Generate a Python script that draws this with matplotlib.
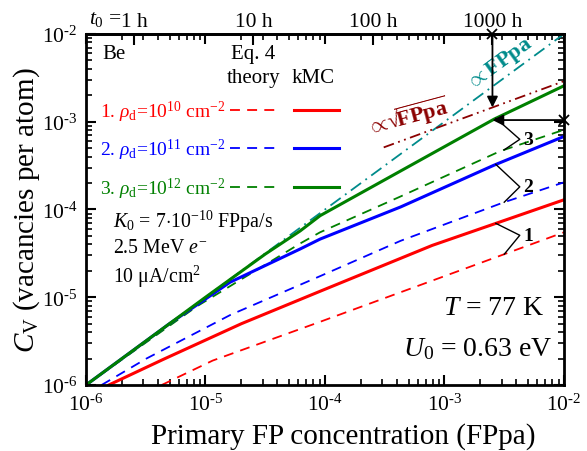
import numpy as np
import matplotlib
matplotlib.use('Agg')
import matplotlib.pyplot as plt
from matplotlib.legend_handler import HandlerTuple

plt.rcParams.update({
    'font.family': 'Liberation Serif',
    'mathtext.fontset': 'custom',
    'mathtext.rm': 'Liberation Serif',
    'mathtext.it': 'Liberation Serif:italic',
    'mathtext.bf': 'Liberation Serif:bold',
    'axes.linewidth': 2.0,
})

# --- data (FPpa vs C_V) ---
kmc1_x = [1.55e-6, 4.4e-6, 2.0e-5, 9.1e-5, 7.9e-4, 1e-2]
kmc1_y = [1e-6, 1.95e-6, 5.0e-6, 1.17e-5, 3.9e-5, 1.29e-4]
kmc2_x = [1e-6, 5e-6, 1.6e-5, 6.2e-5, 9.1e-5, 4.3e-4, 2.6e-3, 1e-2]
kmc2_y = [1e-6, 5e-6, 1.48e-5, 3.55e-5, 4.6e-5, 1.07e-4, 3.2e-4, 6.8e-4]
kmc3_x = [1e-6, 1e-5, 3.16e-5, 6.2e-5, 9.1e-5, 4.3e-4, 2.6e-3, 1e-2]
kmc3_y = [1e-6, 1e-5, 3.1e-5, 5.7e-5, 8.5e-5, 2.75e-4, 1.07e-3, 2.57e-3]

th1_x = [4.3e-6, 1.15e-5, 9.1e-5, 1.0e-3, 1e-2]
th1_y = [1e-6, 1.9e-6, 5.25e-6, 1.74e-5, 5.5e-5]
th2_x = [1.35e-6, 3.2e-6, 1.62e-5, 9.1e-5, 4.3e-4, 3.1e-3, 1e-2]
th2_y = [1e-6, 2.0e-6, 6.3e-6, 1.74e-5, 4.4e-5, 1.2e-4, 2.04e-4]
th3_x = [1e-6, 8.5e-6, 6.2e-5, 9.1e-5, 4.3e-4, 2.9e-3, 1e-2]
th3_y = [1e-6, 7.9e-6, 4.1e-5, 5.5e-5, 1.41e-4, 4.6e-4, 8.1e-4]

lin_x = [1e-6, 1e-2]          # proportional to FPpa
lin_y = [1e-6, 1e-2]
sqrt_x = [3.1e-4, 1e-2]       # proportional to sqrt(FPpa)
sqrt_y = [5.1e-4, 2.9e-3]

K0 = 7e-10                    # FPpa/s
t_hours = [1, 10, 100, 1000]
t_labels = ['1 h', '10 h', '100 h', '1000 h']
dec_exps = [-6, -5, -4, -3, -2]

red, blue, green = '#ff0000', '#0000ff', '#008000'
teal, dred = '#008b8b', '#8b0000'

fig = plt.figure(figsize=(5.87, 4.52), dpi=100)
ax = fig.add_axes([0.1465, 0.146, 0.8143, 0.7766])
ax.set_xscale('log')
ax.set_yscale('log')

dash = (5.5, 4)
ax.plot(lin_x, lin_y, color=teal, lw=1.3, dashes=(7, 3, 1, 3))
ax.plot(sqrt_x, sqrt_y, color=dred, lw=1.3, dashes=(6, 2.5, 1, 2.5, 1, 2.5))
h1d, = ax.plot(th1_x, th1_y, color=red, lw=1.3, dashes=dash)
h2d, = ax.plot(th2_x, th2_y, color=blue, lw=1.3, dashes=dash)
h3d, = ax.plot(th3_x, th3_y, color=green, lw=1.3, dashes=dash)
h1, = ax.plot(kmc1_x, kmc1_y, color=red, lw=2.2)
h2, = ax.plot(kmc2_x, kmc2_y, color=blue, lw=2.2)
h3, = ax.plot(kmc3_x, kmc3_y, color=green, lw=2.2)

ax.set_xlim(1e-6, 1e-2)
ax.set_ylim(1e-6, 1e-2)
ticks = [10.0 ** e for e in dec_exps]
labels = [r'$10^{\text{%d}}$' % e for e in dec_exps]
ax.set_xticks(ticks, labels)
ax.set_yticks(ticks, labels)
ax.tick_params(which='both', direction='in', top=True, right=True, labelsize=15.5)
ax.tick_params(which='major', length=7, width=1.5, pad=6)
ax.tick_params(which='minor', length=4, width=1.2)

# top axis: irradiation time
sec = ax.secondary_xaxis('top')
sec.set_xticks([h * 3600 * K0 for h in t_hours], t_labels)
sec.xaxis.set_minor_locator(matplotlib.ticker.NullLocator())
sec.tick_params(direction='in', length=8, width=1.5, labelsize=15.5, pad=2)
ax.annotate(r'$t_0$ =', xy=(t_hours[0] * 3600 * K0, 1), xycoords=('data', 'axes fraction'),
            xytext=(-9, 4), textcoords='offset points', ha='right', va='bottom', fontsize=15.5)

ax.set_xlabel('Primary FP concentration (FPpa)', fontsize=21)
ax.xaxis.set_label_coords(0.538, -0.105)
ax.set_ylabel(r'$C_{\rm V}$ (vacancies per atom)', fontsize=21, labelpad=0)

# legend: label | theory (dashed) | kMC (solid)
leg = ax.legend([(h1d, h1), (h2d, h2), (h3d, h3)],
                [r'1. $\mathit{ρ}_{\rm d}$=10$^{10}$ cm$^{-2}$',
                 r'2. $\mathit{ρ}_{\rm d}$=10$^{11}$ cm$^{-2}$',
                 r'3. $\mathit{ρ}_{\rm d}$=10$^{12}$ cm$^{-2}$'],
                handler_map={tuple: HandlerTuple(ndivide=None, pad=0.95)},
                markerfirst=False, frameon=False, fontsize=14, handlelength=5.6,
                handletextpad=0.25, labelspacing=0.68, loc='upper left',
                bbox_to_anchor=(0.0, 0.855), borderaxespad=0.3)
for t, c in zip(leg.get_texts(), [red, blue, green]):
    t.set_color(c)

ax.text(0.035, 0.945, 'Be', transform=ax.transAxes, fontsize=15, va='center')
ax.text(0.35, 0.945, 'Eq. 4', transform=ax.transAxes, fontsize=15, va='center', ha='center')
ax.text(0.35, 0.875, 'theory', transform=ax.transAxes, fontsize=15, va='center', ha='center')
ax.text(0.475, 0.875, 'kMC', transform=ax.transAxes, fontsize=15, va='center', ha='center')

ax.text(0.057, 0.468, r'$K_0$ = 7$\cdot$10$^{-10}$ FPpa/s', transform=ax.transAxes, fontsize=14.3, va='center')
ax.text(0.057, 0.392, r'2.5 MeV $e^{-}$', transform=ax.transAxes, fontsize=14.3, va='center')
ax.text(0.057, 0.310, r'10 μA/cm$^{2}$', transform=ax.transAxes, fontsize=14.3, va='center')
ax.text(0.96, 0.22, r'$T$ = 77 K', transform=ax.transAxes, fontsize=20, va='center', ha='right')
ax.text(0.975, 0.105, r'$U_0$ = 0.63 eV', transform=ax.transAxes, fontsize=20, va='center', ha='right')

ax.text(4.9e-4, 1.15e-3, r'$\propto\!√\!\overline{\mathbf{FPpa}}$', color=dred, fontsize=16,
        rotation=15, ha='center', va='center')
ax.text(2.9e-3, 4.6e-3, r'$\propto$FPpa', color=teal, fontsize=16, fontweight='bold',
        rotation=36, ha='center', va='center')

# arrows at t = 1000 h
x1000 = t_hours[-1] * 3600 * K0
lx = np.log10(x1000)
y_sqrt = 10 ** np.interp(lx, np.log10(sqrt_x), np.log10(sqrt_y))
y_kmc = 10 ** np.interp(lx, np.log10(kmc3_x), np.log10(kmc3_y))
arr = dict(arrowstyle='-|>', color='black', lw=1.3, mutation_scale=16, shrinkA=0, shrinkB=0)
ax.annotate('', xy=(x1000, y_sqrt), xytext=(x1000, 1e-2), arrowprops=arr)
ax.annotate('', xy=(x1000, y_kmc), xytext=(1e-2, y_kmc), arrowprops=arr)
ax.plot([x1000, 1e-2], [1e-2, y_kmc], 'x', color='black', ms=7, mew=1.3, clip_on=False)

# numbered leaders joining kMC and theory curves
def curve_at(xs, ys, x):
    return 10 ** np.interp(np.log10(x), np.log10(xs), np.log10(ys))

xs_end, xd_end, xv = 10 ** -2.57, 10 ** -2.5, 10 ** -2.37
for num, (kx, ky), (tx, ty), dy in [('1', (kmc1_x, kmc1_y), (th1_x, th1_y), 0.0),
                                     ('2', (kmc2_x, kmc2_y), (th2_x, th2_y), -0.08),
                                     ('3', (kmc3_x, kmc3_y), (th3_x, th3_y), -0.1)]:
    ys = curve_at(kx, ky, xs_end)
    yd = curve_at(tx, ty, xd_end)
    yv = 10 ** ((np.log10(ys) + np.log10(yd)) / 2 + 0.04 + dy)
    ax.plot([xs_end, xv, xd_end], [ys, yv, yd], color='black', lw=1.0)
    ax.text(xv * 1.07, yv, num, fontsize=14, fontweight='bold', va='center', ha='left')

fig.savefig('out.png', dpi=100)
